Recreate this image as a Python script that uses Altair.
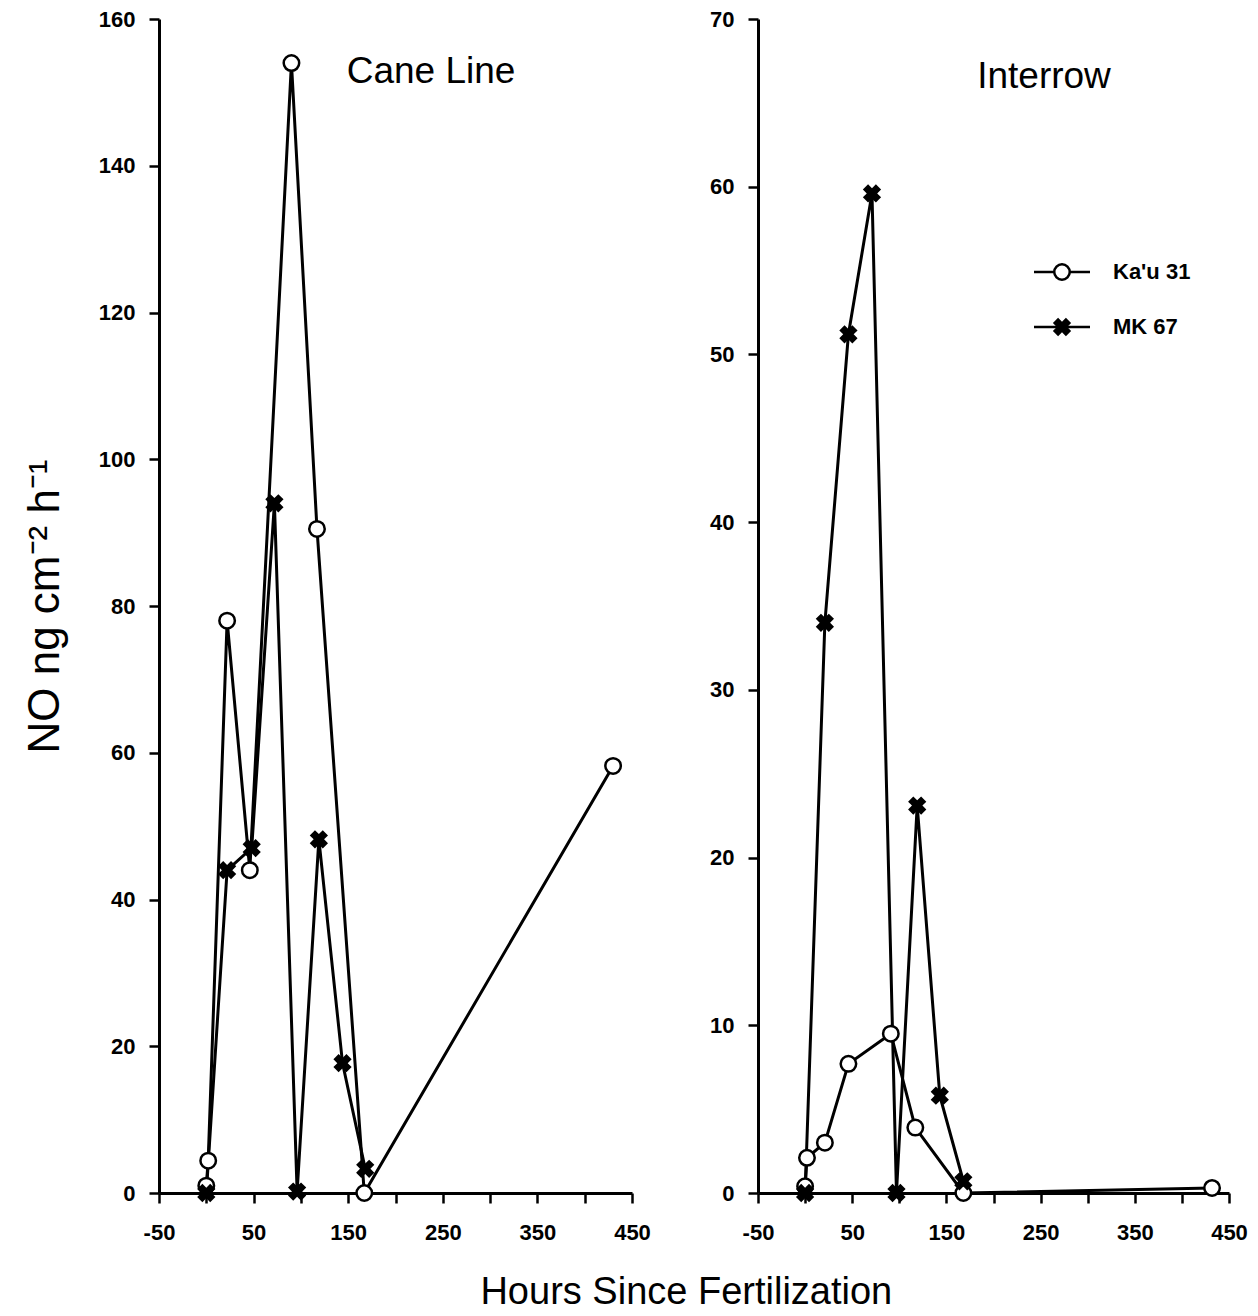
import altair as alt
import pandas as pd

series = ["Ka'u 31", "MK 67"]

# Cane Line panel
cane_kau_hours = [0, 2, 22, 46, 90, 117, 167, 430]
cane_kau_no = [1.0, 4.4, 78.0, 44.0, 154.0, 90.5, 0.0, 58.2]
cane_mk_hours = [0, 22, 48, 72, 96, 119, 144, 168]
cane_mk_no = [0.0, 44.0, 47.0, 94.0, 0.2, 48.2, 17.7, 3.3]

# Interrow panel
inter_kau_hours = [0, 2, 21, 46, 91, 117, 168, 432]
inter_kau_no = [0.4, 2.1, 3.0, 7.7, 9.5, 3.9, 0.0, 0.3]
inter_mk_hours = [0, 21, 46, 71, 97, 119, 143, 168]
inter_mk_no = [0.0, 34.0, 51.2, 59.6, 0.0, 23.1, 5.8, 0.7]

x_ticks = [-50, 0, 50, 100, 150, 200, 250, 300, 350, 400, 450]

FONT = "Liberation Sans"


def make_df(kh, kv, mh, mv):
    return pd.concat([
        pd.DataFrame({"hours": kh, "no": kv, "series": series[0]}),
        pd.DataFrame({"hours": mh, "no": mv, "series": series[1]}),
    ], ignore_index=True)


def panel(df, ymax, ystep, label, label_pos, show_title, legend, width):
    x = alt.X("hours:Q",
              scale=alt.Scale(domain=[-50, 450], nice=False, zero=False),
              axis=alt.Axis(values=x_ticks, title=None, labelFlush=False,
                            labelExpr="abs(datum.value % 100) == 50 ? (datum.value < 0 ? '-' + abs(datum.value) : '' + datum.value) : ''",
                            labelPadding=19))
    yaxis = dict(values=list(range(0, ymax + 1, ystep)), labelPadding=14)
    if show_title:
        yaxis.update(title="NO ng cm\u207b\u00b2 h\u207b\u00b9", titleFontSize=44,
                     titleFont=FONT, titleFontWeight="normal", titlePadding=31)
    else:
        yaxis.update(title=None)
    y = alt.Y("no:Q", scale=alt.Scale(domain=[0, ymax], nice=False),
              axis=alt.Axis(**yaxis))

    lines = alt.Chart(df).mark_line(color="black", strokeWidth=3).encode(
        x=x, y=y, detail="series:N", order="hours:Q")
    kau = alt.Chart(df).transform_filter(
        alt.FieldEqualPredicate(field="series", equal=series[0])
    ).mark_point(shape="circle", filled=True, fill="white", stroke="black",
                 strokeWidth=2.5, size=240, opacity=1).encode(x=x, y=y)
    mk = alt.Chart(df).transform_filter(
        alt.FieldEqualPredicate(field="series", equal=series[1])
    ).mark_point(shape="cross", angle=45, filled=True, color="black",
                 size=340, opacity=1).encode(x=x, y=y)
    txt = alt.Chart(pd.DataFrame({"label": [label]})).mark_text(
        font=FONT, fontSize=37, color="black", align="center", baseline="middle"
    ).encode(text="label:N", x=alt.value(label_pos[0]), y=alt.value(label_pos[1]))

    layers = [lines, kau, mk, txt]
    if legend:
        ldf = pd.DataFrame({"series": series})
        for i, name in enumerate(series):
            yy = 253 + 55 * i
            one = alt.Chart(ldf).transform_filter(
                alt.FieldEqualPredicate(field="series", equal=name))
            layers.append(one.mark_rule(color="black", strokeWidth=2.5).encode(
                x=alt.value(276), x2=alt.value(332), y=alt.value(yy)))
            if i == 0:
                layers.append(one.mark_point(shape="circle", filled=True, fill="white",
                                             stroke="black", strokeWidth=2.5, size=240,
                                             opacity=1).encode(x=alt.value(304), y=alt.value(yy)))
            else:
                layers.append(one.mark_point(shape="cross", angle=45, filled=True,
                                             color="black", size=340, opacity=1).encode(
                    x=alt.value(304), y=alt.value(yy)))
            layers.append(one.mark_text(font=FONT, fontSize=22, fontWeight="bold",
                                        align="left", baseline="middle", color="black").encode(
                text="series:N", x=alt.value(355), y=alt.value(yy)))
    return alt.layer(*layers).properties(width=width, height=1174)


left = panel(make_df(cane_kau_hours, cane_kau_no, cane_mk_hours, cane_mk_no),
             160, 20, "Cane Line", (272, 53), True, False, 473)
right = panel(make_df(inter_kau_hours, inter_kau_no, inter_mk_hours, inter_mk_no),
              70, 10, "Interrow", (286, 58), False, True, 471)

chart = alt.hconcat(left, right, spacing=58).properties(
    padding={"left": 15, "top": 0, "right": 0, "bottom": 0},
    title=alt.TitleParams("Hours Since Fertilization", orient="bottom", anchor="middle",
                          font=FONT, fontSize=38, fontWeight="normal", color="black",
                          offset=31, dx=51)
).configure_view(stroke=None).configure_axis(
    domainColor="black", domainWidth=3, tickColor="black", tickWidth=2.5, tickSize=10,
    labelFont=FONT, labelFontWeight="bold", labelFontSize=22, labelColor="black",
    titleColor="black", grid=False
)

chart.save("out.html", embed_options={"renderer": "svg", "actions": False})
